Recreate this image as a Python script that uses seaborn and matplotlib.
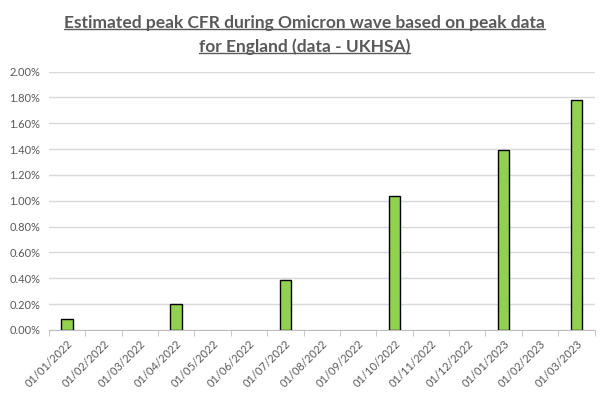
import matplotlib
matplotlib.use("Agg")
import matplotlib.pyplot as plt
from matplotlib.lines import Line2D
from matplotlib.ticker import PercentFormatter
import seaborn as sns
import pandas as pd

# month slots on the x axis
months = ['01/01/2022', '01/02/2022', '01/03/2022', '01/04/2022', '01/05/2022',
          '01/06/2022', '01/07/2022', '01/08/2022', '01/09/2022', '01/10/2022',
          '01/11/2022', '01/12/2022', '01/01/2023', '01/02/2023', '01/03/2023']

# peaks with data
peak_dates = ['01/01/2022', '01/04/2022', '01/07/2022', '01/10/2022', '01/01/2023', '01/03/2023']
peak_cfr = [0.00085, 0.0020, 0.00385, 0.01035, 0.0139, 0.0178]

df = pd.DataFrame({'date': peak_dates, 'cfr': peak_cfr})

sns.set_style('white')
plt.rcParams['font.family'] = ['Lato', 'DejaVu Sans']
grey = '#595959'

fig = plt.figure(figsize=(6.09, 3.98), dpi=100)
ax = fig.add_axes([0.08, 0.171, 0.8965, 0.649])

sns.barplot(data=df, x='date', y='cfr', order=months, color='#92d050',
            edgecolor='black', linewidth=1, width=0.31, saturation=1, ax=ax)

ax.set_ylim(0, 0.02)
ax.set_yticks([i * 0.002 for i in range(11)])
ax.yaxis.set_major_formatter(PercentFormatter(xmax=1, decimals=2))
ax.set_xlim(-0.5, len(months) - 0.5)
ax.grid(axis='y', color='#d9d9d9', linewidth=1)
ax.set_axisbelow(True)
ax.set_xlabel('')
ax.set_ylabel('')

for s in ['top', 'right', 'left']:
    ax.spines[s].set_visible(False)
ax.spines['bottom'].set_color('#bfbfbf')

ax.set_xticks(range(len(months)))
ax.set_xticklabels(months, rotation=45, ha='right', rotation_mode='anchor')
ax.set_xticks([i - 0.5 for i in range(len(months) + 1)], minor=True)
ax.tick_params(axis='x', which='major', length=0, labelsize=8, colors=grey, pad=6)
ax.tick_params(axis='x', which='minor', length=4, color='#bfbfbf', direction='out', bottom=True)
ax.tick_params(axis='y', length=0, labelsize=8, colors=grey, pad=6)

t1 = fig.text(0.5, 0.942, 'Estimated peak CFR during Omicron wave based on peak data',
              ha='center', va='center', fontsize=12.5, fontweight='bold', color=grey)
t2 = fig.text(0.5, 0.882, 'for England (data - UKHSA)',
              ha='center', va='center', fontsize=12.5, fontweight='bold', color=grey)

# underline the title lines
fig.canvas.draw()
r = fig.canvas.get_renderer()
inv = fig.transFigure.inverted()
for t in (t1, t2):
    bb = t.get_window_extent(r)
    (x0, y0), (x1, _) = inv.transform([(bb.x0, bb.y0 + 2), (bb.x1, bb.y0)])
    fig.add_artist(Line2D([x0, x1], [y0, y0], transform=fig.transFigure,
                          color=grey, linewidth=1))

fig.savefig('out.png', dpi=100)
